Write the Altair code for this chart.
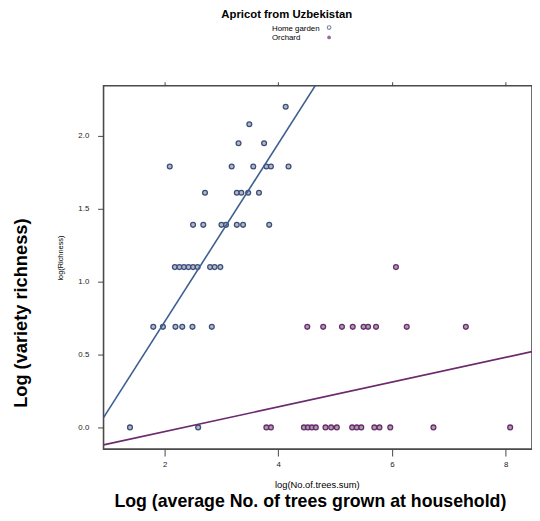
import altair as alt
import pandas as pd

# ---- data ----
home_x = [4.13,
          3.49,
          3.30, 3.75,
          2.09, 3.18, 3.56, 3.79, 3.87, 4.18,
          2.71, 3.27, 3.35, 3.47, 3.66,
          2.50, 2.68, 3.00, 3.08, 3.27, 3.38, 3.84,
          2.18, 2.26, 2.34, 2.42, 2.50, 2.58, 2.80, 2.88, 2.98,
          1.80, 1.97, 2.19, 2.31, 2.49, 2.83,
          1.39, 2.59]
home_y = [2.20,
          2.08,
          1.95, 1.95,
          1.79, 1.79, 1.79, 1.79, 1.79, 1.79,
          1.61, 1.61, 1.61, 1.61, 1.61,
          1.39, 1.39, 1.39, 1.39, 1.39, 1.39, 1.39,
          1.10, 1.10, 1.10, 1.10, 1.10, 1.10, 1.10, 1.10, 1.10,
          0.69, 0.69, 0.69, 0.69, 0.69, 0.69,
          0.0, 0.0]

orch_x = [6.07,
          4.51, 4.79, 5.12, 5.31, 5.50, 5.58, 5.72, 6.26, 7.30,
          3.79, 3.87, 4.45, 4.52, 4.59, 4.66, 4.83, 4.93, 5.03,
          5.30, 5.38, 5.46, 5.69, 5.78, 5.97, 6.73, 8.08]
orch_y = [1.10,
          0.69, 0.69, 0.69, 0.69, 0.69, 0.69, 0.69, 0.69, 0.69,
          0.0, 0.0, 0.0, 0.0, 0.0, 0.0, 0.0, 0.0, 0.0,
          0.0, 0.0, 0.0, 0.0, 0.0, 0.0, 0.0, 0.0]

# fitted lines (end points)
home_line_x = [0.925, 4.75]
home_line_y = [0.068, 2.406]
orch_line_x = [0.925, 8.464]
orch_line_y = [-0.12, 0.52]

groups = ["Home garden", "Orchard"]
stroke_colors = ["#3a4f7c", "#6a2c6e"]
fill_colors = ["#a2a6b0", "#928892"]
line_colors = ["#3d5f90", "#6a2a6e"]

x_ticks = [2, 4, 6, 8]
y_ticks = [0.0, 0.5, 1.0, 1.5, 2.0]

title_text = "Apricot from Uzbekistan"
x_title_inner = "log(No.of.trees.sum)"
y_title_inner = "log(Richness)"
x_title_outer = "Log (average No. of trees grown at household)"
y_title_outer = "Log (variety richness)"

# ---- tables ----
pts = pd.concat([
    pd.DataFrame({"x": home_x, "y": home_y, "g": groups[0]}),
    pd.DataFrame({"x": orch_x, "y": orch_y, "g": groups[1]}),
])
lines = pd.concat([
    pd.DataFrame({"x": home_line_x, "y": home_line_y, "g": groups[0]}),
    pd.DataFrame({"x": orch_line_x, "y": orch_line_y, "g": groups[1]}),
])

FONT = "Liberation Sans"
xscale = alt.Scale(domain=[0.925, 8.464], nice=False, zero=False)
yscale = alt.Scale(domain=[-0.149, 2.345], nice=False, zero=False)

xaxis = alt.Axis(values=x_ticks, format="d", title=None, grid=False, domain=False,
                 tickSize=7, tickColor="#444", labelFontSize=8, labelColor="#222",
                 labelFont=FONT, labelPadding=5)
yaxis = alt.Axis(values=y_ticks, format=".1f", title=None, grid=False, domain=False,
                 tickSize=6, tickColor="#444", labelFontSize=8, labelColor="#222",
                 labelFont=FONT, labelPadding=9)

points = alt.Chart(pts).mark_point(size=24, filled=False, strokeWidth=1.3, opacity=1).encode(
    x=alt.X("x:Q", scale=xscale, axis=xaxis),
    y=alt.Y("y:Q", scale=yscale, axis=yaxis),
    stroke=alt.Stroke("g:N", scale=alt.Scale(domain=groups, range=stroke_colors), legend=None),
    fill=alt.Fill("g:N", scale=alt.Scale(domain=groups, range=fill_colors), legend=None),
    fillOpacity=alt.value(0.8),
)

fit = alt.Chart(lines).mark_line(strokeWidth=1.6, clip=True).encode(
    x=alt.X("x:Q", scale=xscale, axis=alt.Axis(orient="top", values=x_ticks, labels=False,
                                               title=None, grid=False, domain=False,
                                               tickSize=4, tickColor="#444")),
    y=alt.Y("y:Q", scale=yscale),
    color=alt.Color("g:N", scale=alt.Scale(domain=groups, range=line_colors), legend=None),
    detail="g:N",
)

one = alt.Data(values=[{}])

def label(text, x, y, size, bold=False, angle=0, align="center", baseline="alphabetic", color="#000"):
    kw = dict(text=text, fontSize=size, font=FONT, align=align, baseline=baseline,
              color=color, fontWeight="bold" if bold else "normal")
    if angle:
        kw["angle"] = angle
    return alt.Chart(one).mark_text(**kw).encode(x=alt.value(x), y=alt.value(y))

texts = [
    label(title_text, 186, -69, 11.5, bold=True),
    label(groups[0], 171, -56, 8, align="left"),
    label(groups[1], 171, -46, 8, align="left"),
    label(x_title_inner, 217, 405, 9.5, baseline="middle"),
    label(x_title_outer, 210, 428, 18, bold=True),
    label(y_title_inner, -43, 175, 7.5, angle=270, baseline="middle"),
    label(y_title_outer, -84, 231, 18.5, bold=True, angle=270, baseline="middle"),
    alt.Chart(one).mark_point(size=14, filled=False, strokeWidth=1.1, color=stroke_colors[0]).encode(
        x=alt.value(229), y=alt.value(-59)),
    alt.Chart(one).mark_point(size=14, filled=True, strokeWidth=1.1, color=stroke_colors[1]).encode(
        x=alt.value(229), y=alt.value(-49)),
]

chart = alt.layer(points, fit, *texts).resolve_axis(x="independent").properties(
    width=435, height=369,
    autosize=alt.AutoSizeParams(type="none"),
    padding={"left": 97, "top": 75, "right": 0, "bottom": 61},
).configure_view(stroke="#4a4a4a", strokeWidth=1.6)

chart.save("out.html", embed_options={"renderer": "svg", "actions": False})
